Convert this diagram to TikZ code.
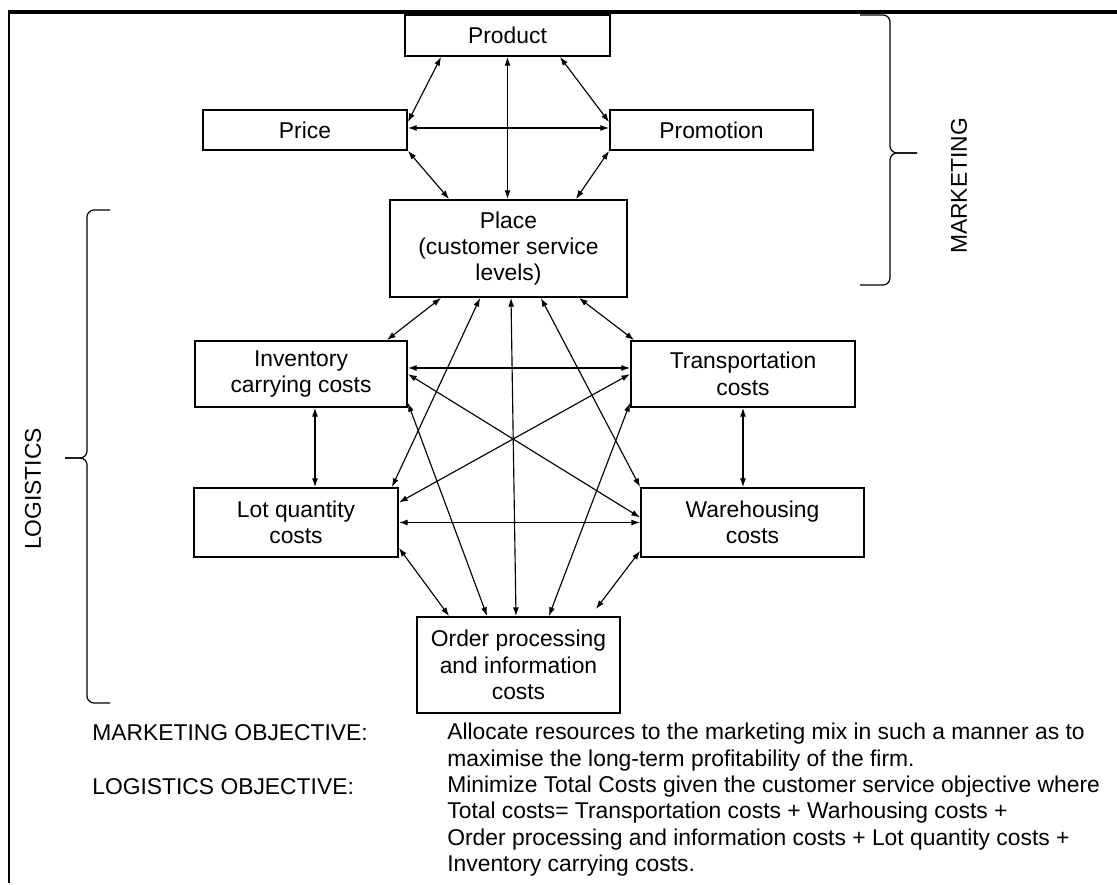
\documentclass[tikz,border=0pt]{standalone}
\usepackage{fontspec}
\setmainfont{Liberation Sans}
\usepackage{tikz}
\usetikzlibrary{arrows.meta}

\begin{document}
\begin{tikzpicture}[
  box/.style={draw, line width=1pt, align=center, inner sep=0pt,
              font=\fontsize{13}{15}\selectfont},
  link/.style={{Latex[length=5pt,width=3.4pt]}-{Latex[length=5pt,width=3.4pt]},
               line width=0.65pt},
  bracket/.style={line width=0.7pt, rounded corners=4pt},
  side/.style={font=\fontsize{13}{15}\selectfont, rotate=90, inner sep=0pt},
  objtext/.style={font=\fontsize{13}{15}\selectfont, align=left,
                  inner sep=0pt, anchor=west},
]
  \useasboundingbox (0,0) rectangle (22.34,17.70);

  % frame
  \draw[line width=2.3pt] (0.16,17.46) -- (22.34,17.46);
  \draw[line width=0.6pt] (0.18,17.46) -- (0.18,0.04);

  % marketing mix
  \node[box, minimum width=4.1cm, minimum height=0.82cm] (product) at (10.15,16.99) {Product};
  \node[box, minimum width=4.08cm, minimum height=0.8cm] (price) at (6.10,15.10) {Price};
  \node[box, minimum width=4.06cm, minimum height=0.8cm] (promo) at (14.23,15.10) {Promotion};
  \node[box, minimum width=4.74cm, minimum height=1.94cm] (place) at (10.17,12.73)
    {Place\\(customer service\\levels)};

  % logistics costs
  \node[box, minimum width=4.24cm, minimum height=1.32cm] (inv) at (6.02,10.22)
    {Inventory\\carrying costs};
  \node[box, minimum width=4.48cm, minimum height=1.32cm] (trans) at (14.86,10.22)
    {Transportation\\costs};
  \node[box, minimum width=4.08cm, minimum height=1.38cm] (lot) at (5.92,7.25)
    {Lot quantity\\costs};
  \node[box, minimum width=4.46cm, minimum height=1.38cm] (ware) at (15.05,7.25)
    {Warehousing\\costs};
  \node[box, minimum width=4.06cm, minimum height=1.92cm] (order) at (10.37,4.40)
    {Order processing\\and information\\costs};

  % marketing links
  \draw[link] ([xshift=0.74cm]product.south west) -- ([yshift=-0.26cm]price.north east);
  \draw[link] ([xshift=-1.02cm]product.south east) -- ([yshift=-0.26cm]promo.north west);
  \draw[link] (product.south) -- (product.south |- place.north);
  \draw[link] ([yshift=0.04cm]price.east) -- ([yshift=0.04cm]promo.west);
  \draw[link] (price.south east) -- ([xshift=1.2cm]place.north west);
  \draw[link] (promo.south west) -- ([xshift=-1.04cm]place.north east);

  % logistics links
  \draw[link] ([xshift=1.04cm]place.south west) -- ([xshift=-0.42cm]inv.north east);
  \draw[link] ([xshift=-0.98cm]place.south east) -- ([xshift=0.08cm]trans.north west);
  \draw[link] ([xshift=1.82cm]place.south west) -- ([xshift=-0.14cm]lot.north east);
  \draw[link] ([xshift=-1.74cm]place.south east) -- (ware.north west);
  \draw[link] ([xshift=0.05cm]place.south) -- ([xshift=-0.05cm]order.north);
  \draw[link] ([yshift=0.12cm]inv.east) -- ([yshift=0.12cm]trans.west);
  \draw[link] (inv.east) -- ([yshift=0.1cm]ware.west);
  \draw[link] (trans.west) -- ([yshift=0.4cm]lot.east);
  \draw[link] (lot.east) -- (ware.west);
  \draw[link] ([yshift=0.1cm]inv.south east) -- ([xshift=1.42cm]order.north west);
  \draw[link] ([yshift=0.1cm]trans.south west) -- ([xshift=-1.44cm]order.north east);
  \draw[link] ([yshift=0.2cm]lot.south east) -- ([xshift=0.66cm]order.north west);
  \draw[link] ([yshift=0.14cm]ware.south west) -- ([xshift=-0.5cm,yshift=0.14cm]order.north east);
  \coordinate (invlot) at ([xshift=0.28cm]inv.south);
  \draw[link] (invlot) -- (invlot |- lot.north);
  \draw[link] (trans.south) -- (trans.south |- ware.north);

  % brackets
  \draw[bracket] (17.20,17.40) -- (17.80,17.40) -- (17.80,14.64) -- (18.34,14.64);
  \draw[bracket] (18.34,14.64) -- (17.80,14.64) -- (17.80,12.00) -- (17.20,12.00);
  \node[side] (mktside) at (19.18,13.98) {MARKETING};

  \draw[bracket] (2.20,13.50) -- (1.74,13.50) -- (1.74,8.54) -- (1.30,8.54);
  \draw[bracket] (1.30,8.54) -- (1.74,8.54) -- (1.74,3.64) -- (2.20,3.64);
  \node[side] (logside) at (0.66,7.92) {LOGISTICS};

  % objectives
  \node[objtext] (mktobj) at (1.84,3.04) {MARKETING OBJECTIVE:};
  \node[objtext] (logobj) at (1.84,1.96) {LOGISTICS OBJECTIVE:};
  \node[objtext] (mkttext) at (8.94,2.76)
    {Allocate resources to the marketing mix in such a manner as to\\
     maximise the long-term profitability of the firm.};
  \node[objtext] (logtext) at (8.94,1.18)
    {Minimize Total Costs given the customer service objective where\\
     Total costs= Transportation costs + Warhousing costs +\\
     Order processing and information costs + Lot quantity costs +\\
     Inventory carrying costs.};
\end{tikzpicture}
\end{document}
